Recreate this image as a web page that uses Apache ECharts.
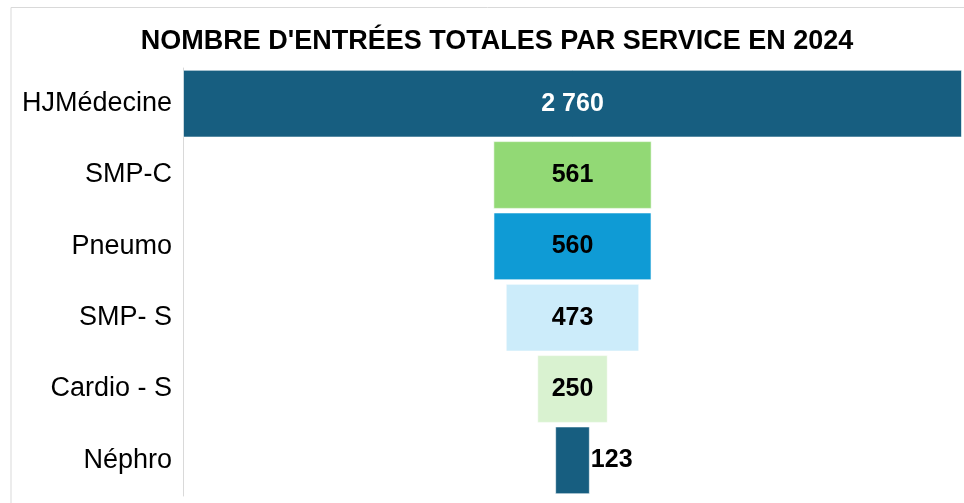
<!DOCTYPE html>
<html>
<head>
<meta charset="utf-8">
<style>
  html, body { margin: 0; padding: 0; background: #fff; }
  #chart { width: 964px; height: 503px; }
</style>
<script src="https://cdn.jsdelivr.net/npm/echarts@6/dist/echarts.min.js"></script>
</head>
<body>
<div id="chart"></div>
<script>
var services = ['HJMédecine', 'SMP-C', 'Pneumo', 'SMP- S', 'Cardio - S', 'Néphro'];
var entrees = [2760, 561, 560, 473, 250, 123];
var couleurs = ['#175e80', '#92d975', '#0f9bd5', '#ccecfa', '#d9f2d0', '#175e80'];

var maxVal = Math.max.apply(null, entrees);

// barre invisible pour centrer chaque barre (effet entonnoir)
var decalage = entrees.map(function (v) { return (maxVal - v) / 2; });

function formatNombre(v) {
    return String(v).replace(/\B(?=(\d{3})+(?!\d))/g, ' ');
}

var chart = echarts.init(document.getElementById('chart'));

var option = {
    animation: false,
    title: {
        text: "NOMBRE D'ENTRÉES TOTALES PAR SERVICE EN 2024",
        left: 492,
        textAlign: 'center',
        top: 23,
        textStyle: {
            fontFamily: 'Liberation Sans, Arial',
            fontSize: 27,
            fontWeight: 'bold',
            color: '#000'
        }
    },
    graphic: [
        {
            type: 'polyline',
            shape: { points: [[11, 503], [11, 7.5], [964, 7.5]] },
            style: { stroke: '#d9d9d9', lineWidth: 1, fill: null },
            silent: true
        }
    ],
    grid: {
        left: 183,
        right: 2,
        top: 68,
        bottom: 7,
        containLabel: false
    },
    xAxis: {
        type: 'value',
        min: 0,
        max: maxVal,
        show: false
    },
    yAxis: {
        type: 'category',
        inverse: true,
        data: services,
        axisLine: { show: true, lineStyle: { color: '#d9d9d9', width: 1 } },
        axisTick: { show: false },
        axisLabel: {
            margin: 11,
            color: '#000',
            fontSize: 27,
            fontFamily: 'Liberation Sans, Arial'
        }
    },
    series: [
        {
            name: 'decalage',
            type: 'bar',
            stack: 'total',
            data: decalage,
            itemStyle: { color: 'transparent' },
            barCategoryGap: '5%',
            silent: true
        },
        {
            name: 'Entrées',
            type: 'bar',
            stack: 'total',
            barCategoryGap: '5%',
            data: entrees.map(function (v, i) {
                var d = {
                    value: v,
                    itemStyle: { color: couleurs[i] },
                    label: {}
                };
                if (i === 0) {
                    d.label.color = '#fff';
                }
                if (v < 200) {
                    d.label.position = 'right';
                    d.label.distance = 1;
                }
                return d;
            }),
            itemStyle: { borderColor: 'rgba(255,255,255,0.6)', borderWidth: 1 },
            label: {
                show: true,
                position: 'inside',
                color: '#000',
                fontSize: 25,
                fontWeight: 'bold',
                fontFamily: 'Liberation Sans, Arial',
                formatter: function (p) { return formatNombre(p.value); }
            }
        }
    ]
};

chart.setOption(option);
</script>
</body>
</html>
